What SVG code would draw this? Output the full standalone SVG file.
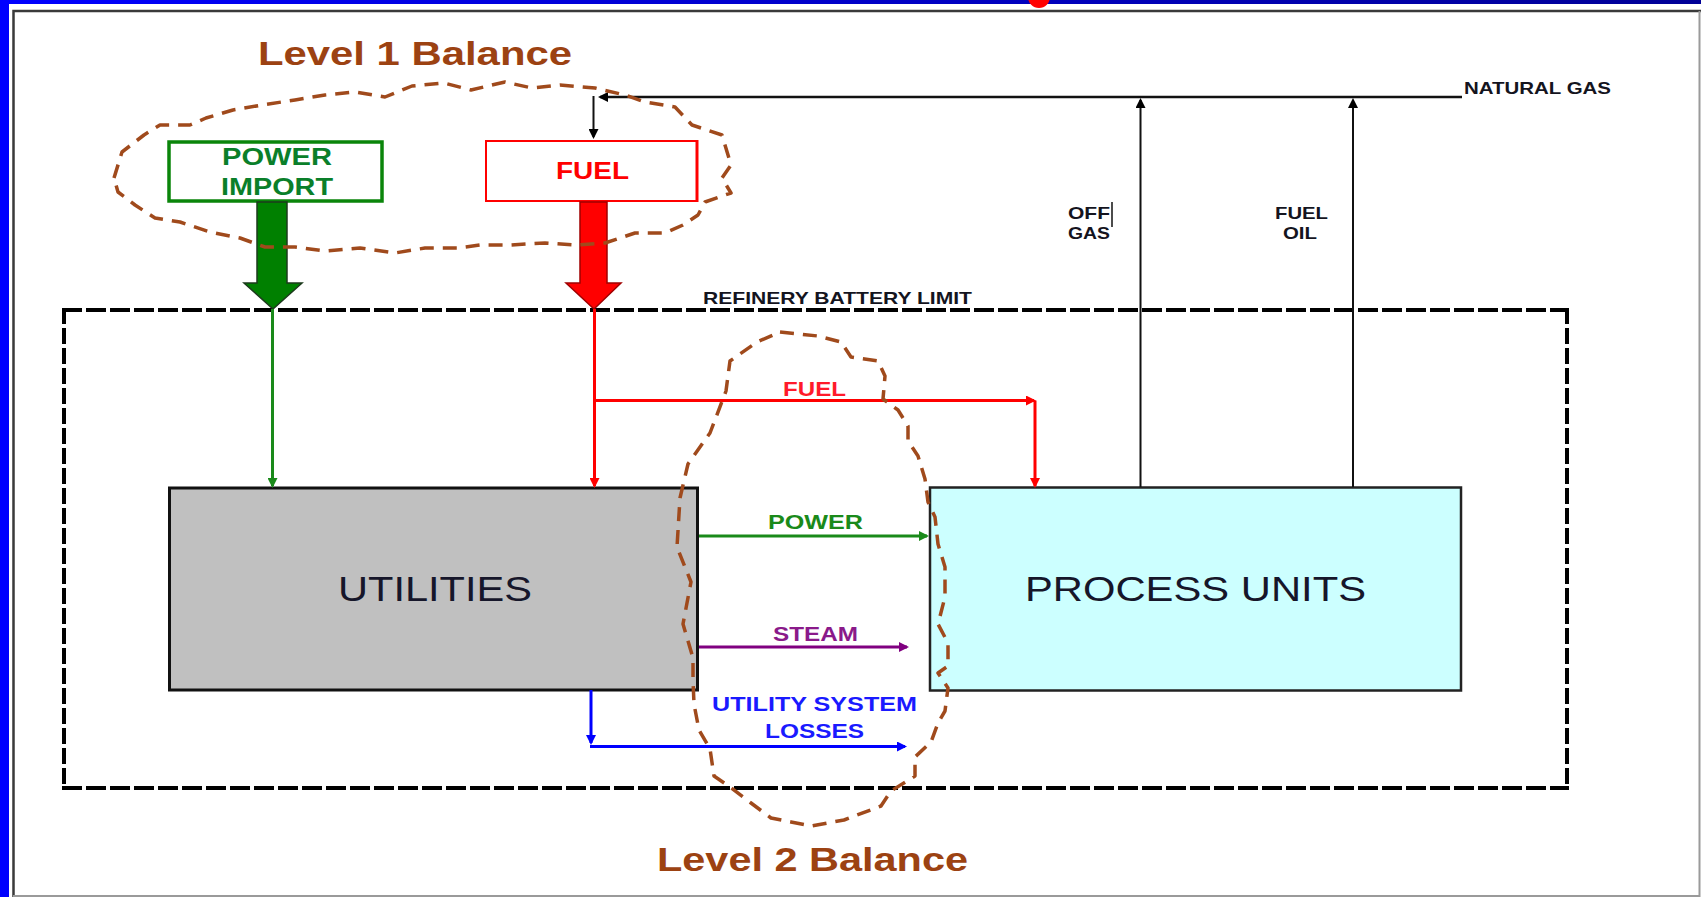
<svg xmlns="http://www.w3.org/2000/svg" width="1701" height="897" viewBox="0 0 1701 897">
  <style>
    .lbl { font-family: "Liberation Sans", Arial, sans-serif; font-weight: bold; }
    .big { font-family: "Liberation Sans", Arial, sans-serif; font-weight: normal; fill: #16162a; font-size: 34.5px; }
    .title { font-family: "Liberation Sans", Arial, sans-serif; font-weight: bold; fill: #9c4212; font-size: 34px; }
    .small { font-size: 16.5px; fill: #14141e; }
    .flow { font-size: 20px; }
    .limit { fill: none; stroke: #000; stroke-width: 4; }
    .cloud { fill: none; stroke: #a04a1c; stroke-width: 3.5; stroke-dasharray: 14 9; stroke-linejoin: round; stroke-linecap: butt; }
    .thin { fill: none; stroke-width: 3; }
  </style>
  <defs>
    <linearGradient id="topBar" x1="0" y1="0" x2="1" y2="0">
      <stop offset="0" stop-color="#0000ff"/>
      <stop offset="0.5" stop-color="#0000c8"/>
      <stop offset="1" stop-color="#000096"/>
    </linearGradient>
    <marker id="ahGreen" viewBox="0 0 10 10" markerUnits="userSpaceOnUse" markerWidth="12" markerHeight="10" refX="8" refY="5" orient="auto">
      <path d="M0,0 L10,5 L0,10 Z" fill="#1a8a1a"/>
    </marker>
    <marker id="ahRed" viewBox="0 0 10 10" markerUnits="userSpaceOnUse" markerWidth="12" markerHeight="10" refX="8" refY="5" orient="auto">
      <path d="M0,0 L10,5 L0,10 Z" fill="#ff0000"/>
    </marker>
    <marker id="ahPurple" viewBox="0 0 10 10" markerUnits="userSpaceOnUse" markerWidth="12" markerHeight="10" refX="8" refY="5" orient="auto">
      <path d="M0,0 L10,5 L0,10 Z" fill="#800080"/>
    </marker>
    <marker id="ahBlue" viewBox="0 0 10 10" markerUnits="userSpaceOnUse" markerWidth="14" markerHeight="10" refX="8" refY="5" orient="auto">
      <path d="M0,0 L10,5 L0,10 Z" fill="#0000ff"/>
    </marker>
    <marker id="ahBlack" viewBox="0 0 10 10" markerUnits="userSpaceOnUse" markerWidth="11" markerHeight="10" refX="8" refY="5" orient="auto">
      <path d="M0,0 L10,5 L0,10 Z" fill="#000"/>
    </marker>
  </defs>

  <!-- page frame -->
  <g id="frame">
    <rect x="0" y="0" width="1701" height="897" fill="#fff"/>
    <rect x="0" y="0" width="1701" height="4" fill="url(#topBar)"/>
    <rect x="0" y="0" width="9" height="897" fill="#0000ff"/>
    <circle cx="1039" cy="-3" r="11" fill="#ff0000"/>
    <path d="M13.5,897 V11 H1701" fill="none" stroke="#3a3a3a" stroke-width="2.5"/>
    <path d="M1699.5,11 V896 H13" fill="none" stroke="#9a9a9a" stroke-width="2"/>
  </g>

  <!-- refinery battery limit -->
  <g id="battery-limit">
    <path class="limit" d="M62,310 H1569" stroke-dasharray="20 4"/>
    <path class="limit" d="M62,788 H1569" stroke-dasharray="20 4"/>
    <path class="limit" d="M64,308 V790" stroke-dasharray="16 4"/>
    <path class="limit" d="M1567,308 V790" stroke-dasharray="16 4"/>
    <text class="lbl small" x="703" y="304" textLength="269" lengthAdjust="spacingAndGlyphs">REFINERY BATTERY LIMIT</text>
  </g>

  <!-- nodes -->
  <g id="power-import">
    <rect x="169" y="142" width="213" height="59" fill="#fff" stroke="#0a850a" stroke-width="3.5"/>
    <text class="lbl" x="222" y="165" font-size="24" fill="#0a7f2a" textLength="110" lengthAdjust="spacingAndGlyphs">POWER</text>
    <text class="lbl" x="221" y="195" font-size="24" fill="#0a7f2a" textLength="112" lengthAdjust="spacingAndGlyphs">IMPORT</text>
  </g>

  <g id="fuel-supply">
    <rect x="486" y="141" width="211" height="60" fill="#fff" stroke="#ff0000" stroke-width="2"/>
    <line x1="697" y1="140" x2="697" y2="202" stroke="#ff0000" stroke-width="3"/>
    <text class="lbl" x="556" y="179" font-size="24" font-weight="normal" fill="#ff0000" textLength="73" lengthAdjust="spacingAndGlyphs">FUEL</text>
  </g>

  <g id="utilities">
    <rect x="169.5" y="488" width="528" height="202" fill="#c0c0c0" stroke="#111" stroke-width="3"/>
    <text class="big" x="338" y="601" textLength="194" lengthAdjust="spacingAndGlyphs">UTILITIES</text>
  </g>

  <g id="process-units">
    <rect x="930" y="487.5" width="531" height="203" fill="#ccffff" stroke="#222" stroke-width="2.5"/>
    <text class="big" x="1025" y="601" textLength="341" lengthAdjust="spacingAndGlyphs">PROCESS UNITS</text>
  </g>

  <!-- connectors -->
  <g id="connectors">
    <!-- imports crossing the battery limit -->
    <polygon points="257,202 287,202 287,283 302,283 273,309 244,283 257,283" fill="#008000" stroke="#1c3a1c" stroke-width="1.5"/>
    <polygon points="580,202 607,202 607,283 621,283 594,309 566,283 580,283" fill="#ff0000" stroke="#a00000" stroke-width="1.5"/>

    <line class="thin" x1="272.5" y1="309" x2="272.5" y2="486" stroke="#1a8a1a" stroke-width="2.5" marker-end="url(#ahGreen)"/>
    <line class="thin" x1="594.5" y1="309" x2="594.5" y2="486" stroke="#ff0000" marker-end="url(#ahRed)"/>

    <!-- fuel branch to process units -->
    <line class="thin" x1="594.5" y1="400.5" x2="1034" y2="400.5" stroke="#ff0000" marker-end="url(#ahRed)"/>
    <line class="thin" x1="1035" y1="400.5" x2="1035" y2="486" stroke="#ff0000" marker-end="url(#ahRed)"/>
    <text class="lbl flow" x="783" y="396" fill="#ff1a2a" textLength="63" lengthAdjust="spacingAndGlyphs">FUEL</text>

    <!-- power and steam to process units -->
    <line class="thin" x1="699" y1="536" x2="927" y2="536" stroke="#1a8a1a" marker-end="url(#ahGreen)"/>
    <text class="lbl flow" x="768" y="529" fill="#1a8a1a" textLength="95" lengthAdjust="spacingAndGlyphs">POWER</text>

    <line class="thin" x1="699" y1="647" x2="907" y2="647" stroke="#800080" stroke-width="2.5" marker-end="url(#ahPurple)"/>
    <text class="lbl flow" x="773" y="641" fill="#8a1a8a" textLength="85" lengthAdjust="spacingAndGlyphs">STEAM</text>

    <!-- utility system losses -->
    <line class="thin" x1="591" y1="690" x2="591" y2="743" stroke="#0000ff" stroke-width="2.5" marker-end="url(#ahBlue)"/>
    <line class="thin" x1="590" y1="746.5" x2="905" y2="746.5" stroke="#0000ff" stroke-width="3.5" marker-end="url(#ahBlue)"/>
    <text class="lbl flow" x="712" y="711" fill="#1a1aff" textLength="205" lengthAdjust="spacingAndGlyphs">UTILITY SYSTEM</text>
    <text class="lbl flow" x="765" y="738" fill="#1a1aff" textLength="99" lengthAdjust="spacingAndGlyphs">LOSSES</text>

    <!-- natural gas header fed by off gas and fuel oil -->
    <line x1="1462" y1="97" x2="600" y2="97" stroke="#111" stroke-width="2.5" marker-end="url(#ahBlack)"/>
    <line x1="593.5" y1="96" x2="593.5" y2="137" stroke="#111" stroke-width="2" marker-end="url(#ahBlack)"/>
    <text class="lbl small" x="1464" y="94" textLength="147" lengthAdjust="spacingAndGlyphs">NATURAL GAS</text>

    <line x1="1140.5" y1="487" x2="1140.5" y2="100" stroke="#111" stroke-width="2" marker-end="url(#ahBlack)"/>
    <line x1="1353" y1="487" x2="1353" y2="100" stroke="#111" stroke-width="2" marker-end="url(#ahBlack)"/>
    <text class="lbl small" x="1068" y="219" textLength="42" lengthAdjust="spacingAndGlyphs">OFF</text>
    <text class="lbl small" x="1068" y="239" textLength="42" lengthAdjust="spacingAndGlyphs">GAS</text>
    <line x1="1112" y1="202" x2="1112" y2="227" stroke="#111" stroke-width="1.5"/>
    <text class="lbl small" x="1275" y="219" textLength="53" lengthAdjust="spacingAndGlyphs">FUEL</text>
    <text class="lbl small" x="1283" y="239" textLength="34" lengthAdjust="spacingAndGlyphs">OIL</text>
  </g>

  <!-- balance envelopes -->
  <g id="level-1-balance">
    <path class="cloud" d="M114,178 L122,152 L144,135 L160,125 L190,125 L206,118 L233,110 L262,105 L295,100 L325,95 L355,92 L385,97 L412,86 L444,83 L471,90 L505,82 L532,88 L560,85 L595,88 L625,95 L645,102 L675,107 L692,125 L722,135 L731,165 L722,178 L731,193 L705,202 L698,215 L683,225 L665,233 L635,233 L605,243 L575,245 L545,243 L510,245 L480,245 L458,248 L425,248 L395,253 L360,248 L325,251 L295,247 L265,247 L240,238 L210,232 L180,222 L155,218 L135,205 L118,192 Z"/>
    <text class="title" x="258" y="65" textLength="314" lengthAdjust="spacingAndGlyphs">Level 1 Balance</text>
  </g>

  <g id="level-2-balance">
    <path class="cloud" d="M780,332 L818,336 L841,342 L851,357 L878,361 L885,376 L883,399 L898,410 L908,426 L908,441 L918,456 L925,479 L928,502 L935,517 L938,544 L945,567 L945,597 L938,624 L948,643 L948,666 L938,673 L948,688 L945,711 L938,723 L931,742 L915,757 L915,776 L891,791 L881,806 L844,820 L811,826 L791,822 L771,818 L751,803 L730,787 L714,776 L710,749 L699,730 L694,704 L693,680 L693,658 L683,624 L691,582 L677,547 L680,498 L688,464 L710,433 L726,391 L730,361 L757,342 Z"/>
    <text class="title" x="657" y="871" textLength="311" lengthAdjust="spacingAndGlyphs">Level 2 Balance</text>
  </g>
</svg>
